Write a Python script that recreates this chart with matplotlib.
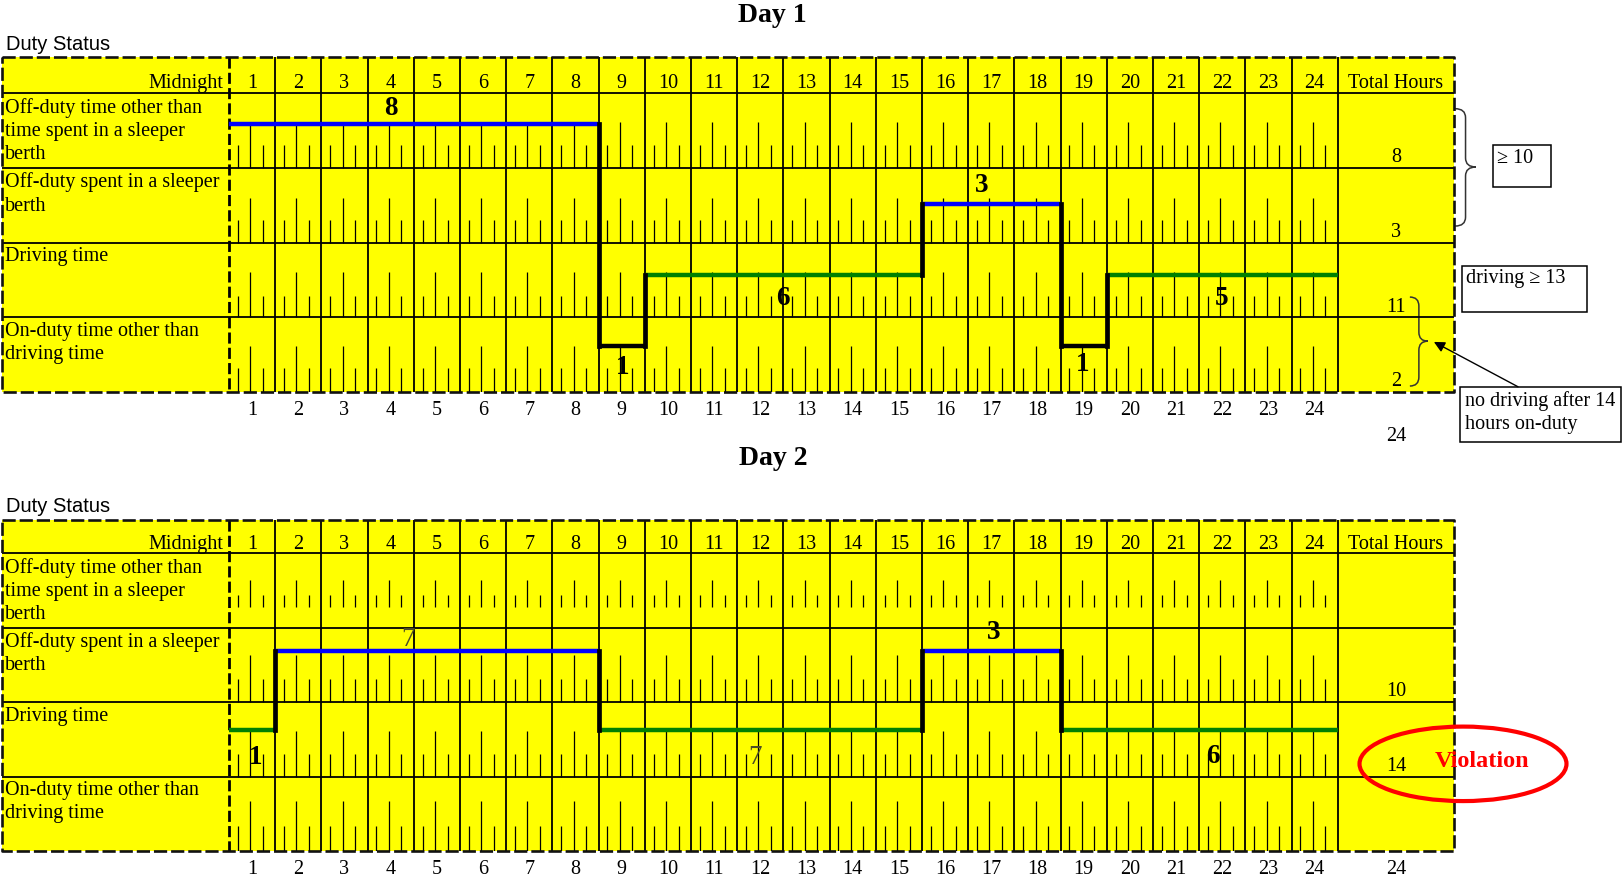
import matplotlib
matplotlib.use('Agg')
import matplotlib.pyplot as plt
from matplotlib.patches import Rectangle, Ellipse, PathPatch
from matplotlib.path import Path

plt.rcParams['font.family'] = ['Liberation Serif', 'DejaVu Serif']

W, H = 1623, 878

# ---- data ----
row_labels = ['Off-duty time other than\ntime spent in a sleeper\nberth',
              'Off-duty spent in a sleeper\nberth',
              'Driving time',
              'On-duty time other than\ndriving time']
hour_labels = [str(h) for h in range(1, 25)]

# status: 0 off duty, 1 sleeper berth, 2 driving, 3 on duty
day1_hours = [0, 8, 9, 15, 18, 19, 24]
day1_status = [0, 3, 2, 1, 3, 2]
day1_seg_labels = ['8', '1', '6', '3', '1', '5']
day1_totals = ['8', '3', '11', '2']
day1_sum = '24'

day2_hours = [0, 1, 8, 15, 18, 24]
day2_status = [2, 1, 2, 1, 2]
day2_seg_labels = ['1', '7', '7', '3', '6']
day2_totals = ['', '10', '14', '']
day2_sum = '24'

# ---- layout ----
status_colors = ['#0000ff', '#0000ff', '#008000', 'black']
x_left_px, x_right_px, x0_px, hour_px = 2, 1454, 229, 46.2
lab_w = (x0_px - x_left_px) / hour_px
tot_w = (x_right_px - x0_px) / hour_px - 24
tick_offs = [0.19, 0.46, 0.73]
FS = 14.5

fig = plt.figure(figsize=(W / 100, H / 100), dpi=100)


def make_ax(top_px, bottom_px, header_px):
    ax = fig.add_axes([x_left_px / W, 1 - bottom_px / H,
                       (x_right_px - x_left_px) / W, (bottom_px - top_px) / H])
    row_px = (bottom_px - top_px - header_px) / 4
    hh = header_px / row_px
    ax.set_xlim(-lab_w, 24 + tot_w)
    ax.set_ylim(4, -hh)
    ax.axis('off')
    return ax, hh


def brace(ax, x, y0, y1, w, ym):
    d = 0.12
    xm = x + w / 2
    verts = [(x, y0), (xm, y0), (xm, y0 + d), (xm, ym - d), (xm, ym), (x + w, ym),
             (xm, ym), (xm, ym + d), (xm, y1 - d), (xm, y1), (x, y1)]
    codes = [Path.MOVETO, Path.CURVE3, Path.CURVE3, Path.LINETO, Path.CURVE3, Path.CURVE3,
             Path.CURVE3, Path.CURVE3, Path.LINETO, Path.CURVE3, Path.CURVE3]
    ax.add_patch(PathPatch(Path(verts, codes), fc='none', ec='#333333', lw=1.1, clip_on=False))


def draw_day(ax, hh, hours, status, seg_labels, seg_pos, seg_style, totals, total_sum, sum_y,
             levels, tick_specs):
    right = 24 + tot_w
    ax.add_patch(Rectangle((-lab_w, -hh), lab_w + right, 4 + hh, fc='#ffff00', ec='none', zorder=0))
    ax.hlines([0, 1, 2, 3], -lab_w, right, color='black', lw=1.3, zorder=2)
    ax.vlines(range(1, 25), -hh, 4, color='black', lw=1.3, zorder=2)
    ax.vlines(0, -hh, 4, color='black', lw=2.0, linestyles=(0, (4, 1.5)), zorder=3)
    ax.plot([-lab_w, right, right, -lab_w, -lab_w], [-hh, -hh, 4, 4, -hh], color='#111111',
            lw=1.9, ls=(0, (5, 1.5)), clip_on=False, zorder=3)

    # quarter-hour ticks
    for r, (b, s, l) in enumerate(tick_specs):
        xs_short = [h + tick_offs[0] for h in range(24)] + [h + tick_offs[2] for h in range(24)]
        xs_long = [h + tick_offs[1] for h in range(24)]
        ax.vlines(xs_short, r + 1 - b, r + 1 - s, color='black', lw=0.9, zorder=2)
        ax.vlines(xs_long, r + 1 - b, r + 1 - l, color='black', lw=0.9, zorder=2)

    # header
    yh = -hh * 0.28
    ax.text(-0.12, yh, 'Midnight', ha='right', va='center', size=FS)
    for h, lab in enumerate(hour_labels):
        ax.text(h + 0.5, yh, lab, ha='center', va='center', size=FS)
        ax.text(h + 0.5, 4.24, lab, ha='center', va='center', size=FS, clip_on=False)
    ax.text(24 + tot_w / 2, yh, 'Total Hours', ha='center', va='center', size=FS)

    for r, lab in enumerate(row_labels):
        ax.text(-lab_w + 0.07, r + 0.05, lab, ha='left', va='top', size=FS, linespacing=1.3)
        ax.text(24 + tot_w / 2, r + 0.85, totals[r], ha='center', va='center', size=FS)
    ax.text(24 + tot_w / 2, sum_y, total_sum, ha='center', va='center', size=FS, clip_on=False)

    # duty status line
    for i, st in enumerate(status):
        ax.plot([hours[i], hours[i + 1]], [levels[st]] * 2, color=status_colors[st], lw=3.2,
                solid_capstyle='butt', zorder=5)
        if i > 0:
            ax.plot([hours[i]] * 2, [levels[status[i - 1]], levels[st]], color='black', lw=3.4,
                    solid_capstyle='projecting', zorder=6)

    for lab, (x, y), (wt, col) in zip(seg_labels, seg_pos, seg_style):
        ax.text(x, y, lab, ha='center', va='center', size=19.5, weight=wt, color=col, zorder=7)


# ---- Day 1 ----
ax1, hh1 = make_ax(57.5, 393, 36.5)
draw_day(ax1, hh1, day1_hours, day1_status, day1_seg_labels,
         [(3.51, 0.19), (8.51, 3.66), (11.98, 2.73), (16.3, 1.23), (18.48, 3.62), (21.48, 2.73)],
         [('bold', 'black')] * 6,
         day1_totals, day1_sum, 4.58,
         [0.41, 1.49, 2.43, 3.38],
         [(0, 0.31, 0.61), (0, 0.3, 0.6), (0, 0.28, 0.6), (0, 0.32, 0.62)])

brace(ax1, 26.54, 0.21, 1.78, 0.45, 0.99)
ax1.add_patch(Rectangle((27.36, 0.70), 1.25, 0.56, fc='white', ec='black', lw=1.1, clip_on=False))
ax1.text(27.44, 0.74, '≥ 10', ha='left', va='top', size=FS, clip_on=False)
ax1.add_patch(Rectangle((26.69, 2.31), 2.70, 0.62, fc='white', ec='black', lw=1.1, clip_on=False))
ax1.text(26.77, 2.34, 'driving ≥ 13', ha='left', va='top', size=FS, clip_on=False)
brace(ax1, 25.56, 2.73, 3.92, 0.39, 3.32)
ax1.add_patch(Rectangle((26.65, 3.93), 3.49, 0.74, fc='white', ec='black', lw=1.1, clip_on=False))
ax1.text(26.75, 3.97, 'no driving after 14\nhours on-duty', ha='left', va='top', size=FS,
         linespacing=1.3, clip_on=False)
ax1.annotate('', xy=(26.08, 3.33), xytext=(27.9, 3.93), annotation_clip=False,
             arrowprops=dict(arrowstyle='-|>', color='black', lw=1, mutation_scale=16,
                             shrinkA=0, shrinkB=0))

# ---- Day 2 ----
ax2, hh2 = make_ax(521, 852, 33)
draw_day(ax2, hh2, day2_hours, day2_status, day2_seg_labels,
         [(0.58, 2.73), (3.87, 1.15), (11.38, 2.73), (16.55, 1.05), (21.3, 2.72)],
         [('bold', 'black'), ('normal', '#4d4d26'), ('normal', '#4d4d26'),
          ('bold', 'black'), ('bold', 'black')],
         day2_totals, day2_sum, 4.24,
         [0.41, 1.32, 2.38, 3.38],
         [(0.28, 0.44, 0.64), (0, 0.31, 0.63), (0, 0.3, 0.61), (0, 0.34, 0.67)])

ax2.add_patch(Ellipse((26.71, 2.83), 4.48, 1.0, fill=False, ec='#ff0000', lw=3, clip_on=False,
                      zorder=8))
ax2.text(27.12, 2.79, 'Violation', ha='center', va='center', size=17.5, weight='bold',
         color='#ff0000', clip_on=False, zorder=9)

# ---- titles ----
fig.text(772 / W, 1 - 16 / H, 'Day 1', ha='center', va='center', size=20, weight='bold')
fig.text(773 / W, 1 - 459 / H, 'Day 2', ha='center', va='center', size=20, weight='bold')
fig.text(6 / W, 1 - 44 / H, 'Duty Status', ha='left', va='center', size=14.5,
         family='Liberation Sans')
fig.text(6 / W, 1 - 507 / H, 'Duty Status', ha='left', va='center', size=14.5,
         family='Liberation Sans')

fig.savefig('out.png', dpi=100)
